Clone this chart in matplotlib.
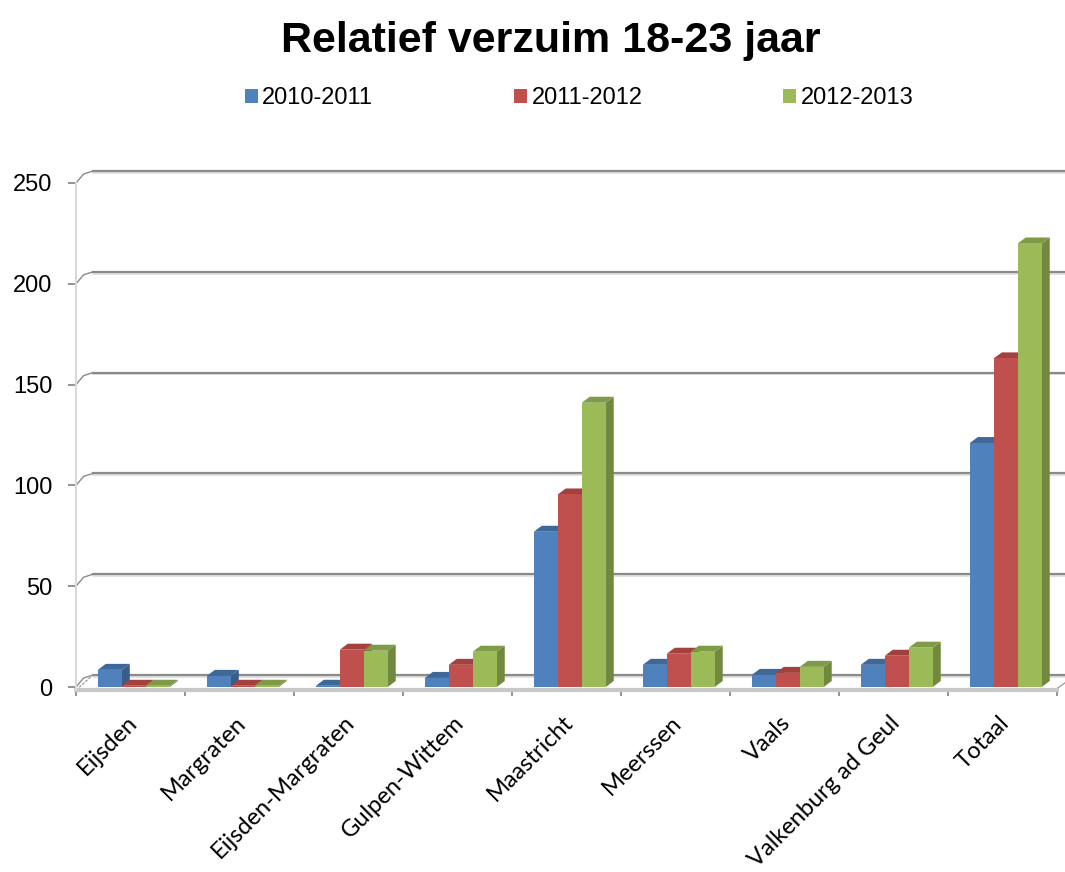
import matplotlib
matplotlib.use("Agg")
import matplotlib.pyplot as plt
from matplotlib.patches import Polygon, Patch
from matplotlib.transforms import ScaledTranslation
import numpy as np

categories = ["Eijsden", "Margraten", "Eijsden-Margraten", "Gulpen-Wittem", "Maastricht",
              "Meerssen", "Vaals", "Valkenburg ad Geul", "Totaal"]
series_names = ["2010-2011", "2011-2012", "2012-2013"]
v_2010 = [8.5, 5.5, 0.6, 4.5, 77, 11, 6, 11, 121]
v_2011 = [0.6, 0.6, 18.5, 11, 95.5, 16.5, 7, 15.5, 163]
v_2012 = [0.6, 0.6, 18, 17.5, 141, 17.5, 10, 19.5, 220]
yticks = [0, 50, 100, 150, 200, 250]
series_values = [v_2010, v_2011, v_2012]

front_cols = ["#4F81BD", "#C0504D", "#9BBB59"]
side_cols = ["#385D8A", "#8C3836", "#71893F"]
top_cols = ["#3E6898", "#A2413E", "#7F9B48"]

W, H = 1065, 872
fig = plt.figure(figsize=(W / 100, H / 100), dpi=100)

# axes: front plane x 76..1057 px for 9 categories, y 0 at 687 px, 2.016 px/unit
px_per_cat = 109.0
px_per_unit = 2.016
y0px = 687
ax_left_px, ax_right_px = 76, 1065
ax_top_px, ax_bot_px = 150, 720
ax = fig.add_axes([ax_left_px / W, 1 - ax_bot_px / H,
                   (ax_right_px - ax_left_px) / W, (ax_bot_px - ax_top_px) / H])
ax.set_xlim(-0.5, -0.5 + (ax_right_px - ax_left_px) / px_per_cat)
ax.set_ylim(-(ax_bot_px - y0px) / px_per_unit, (y0px - ax_top_px) / px_per_unit)

BX, BY = 17 / px_per_cat, 12 / px_per_unit   # back wall offset
DX, DY = 8 / px_per_cat, 6 / px_per_unit     # bar depth
xmax = ax.get_xlim()[1]

# gridlines on back wall with connectors from front ticks
for v in yticks:
    ax.plot([-0.5 + BX, xmax + 1], [v + BY - 0.9, v + BY - 0.9], color="#dcdcdc", lw=1.2, zorder=1)
    ax.plot([-0.5 + BX, xmax + 1], [v + BY, v + BY], color="#8a8a8a", lw=1.6, zorder=1.1)
    ax.plot([-0.5, -0.5 + BX * 0.45, -0.5 + BX], [v, v + BY * 0.75, v + BY],
            color="#8a8a8a", lw=1.0, zorder=1.1)
# floor connectors
ax.plot([-0.5, -0.5 + BX], [-1.5, BY], color="#a0a0a0", lw=1.0, ls=(0, (2, 1)), zorder=1.1)
ax.plot([8.5 - 0.02, 8.5 - 0.02 + BX], [-1.5, BY - 1.5], color="#a0a0a0", lw=1.0, zorder=1.1)

# bars with pseudo-3D faces
bw = 0.22
offsets = [-0.3, -0.08, 0.14]
x = np.arange(len(categories))
for s, vals in enumerate(series_values):
    z = 3 + s
    lefts = x + offsets[s]
    for xl, h in zip(lefts, vals):
        side = Polygon([(xl + bw, 0), (xl + bw + DX, DY), (xl + bw + DX, h + DY), (xl + bw, h)],
                       closed=True, facecolor=side_cols[s], edgecolor="none", zorder=z)
        top = Polygon([(xl, h), (xl + DX, h + DY), (xl + bw + DX, h + DY), (xl + bw, h)],
                      closed=True, facecolor=top_cols[s], edgecolor="none", zorder=z)
        ax.add_patch(side)
        ax.add_patch(top)
    ax.bar(lefts, vals, width=bw, align="edge", color=front_cols[s], edgecolor="none",
           zorder=z + 0.5, label=series_names[s])

# spines / ticks
for sp in ["top", "right"]:
    ax.spines[sp].set_visible(False)
ax.spines["left"].set_color("#d9d9d9")
ax.spines["left"].set_linewidth(1.5)
ax.spines["left"].set_bounds(-1.5, 250)
ax.spines["bottom"].set_position(("data", -1.5))
ax.spines["bottom"].set_color("#c8c8c8")
ax.spines["bottom"].set_linewidth(3)
ax.spines["bottom"].set_bounds(-0.5, 8.5)
ax.spines["bottom"].set_zorder(2)

ax.set_yticks(yticks)
ax.set_yticklabels([str(v) for v in yticks], fontsize=17, family="Liberation Sans")
ax.tick_params(axis="y", length=6, width=1.2, color="#808080", pad=11)

ax.set_xticks(np.arange(-0.5, len(categories), 1.0))
ax.set_xticklabels([])
ax.tick_params(axis="x", which="major", length=4, width=1.2, color="#808080", direction="out")
ax.set_xticks(x, minor=True)
ax.set_xticklabels(categories, minor=True, fontsize=17, family="Lato")
ax.tick_params(axis="x", which="minor", length=0, pad=21)
shift = ScaledTranslation(3 / 100, 0, fig.dpi_scale_trans)
for lab in ax.get_xticklabels(minor=True):
    lab.set_rotation(45)
    lab.set_ha("right")
    lab.set_va("center")
    lab.set_rotation_mode("anchor")
    lab.set_transform(lab.get_transform() + shift)

# title
fig.text(551 / W, 1 - 52 / H, "Relatief verzuim 18-23 jaar", ha="center", va="baseline",
         fontsize=31, fontweight="bold", family="Liberation Sans")

# legend
handles = [Patch(facecolor=c, edgecolor="none") for c in front_cols]
fig.legend(handles, series_names, loc="center", bbox_to_anchor=(579 / W, 1 - 98 / H),
           ncol=3, frameon=False, prop={"family": "Liberation Sans", "size": 17},
           handlelength=0.55, handleheight=0.55, handletextpad=0.2, columnspacing=5.95)

fig.savefig("out.png", dpi=100)
